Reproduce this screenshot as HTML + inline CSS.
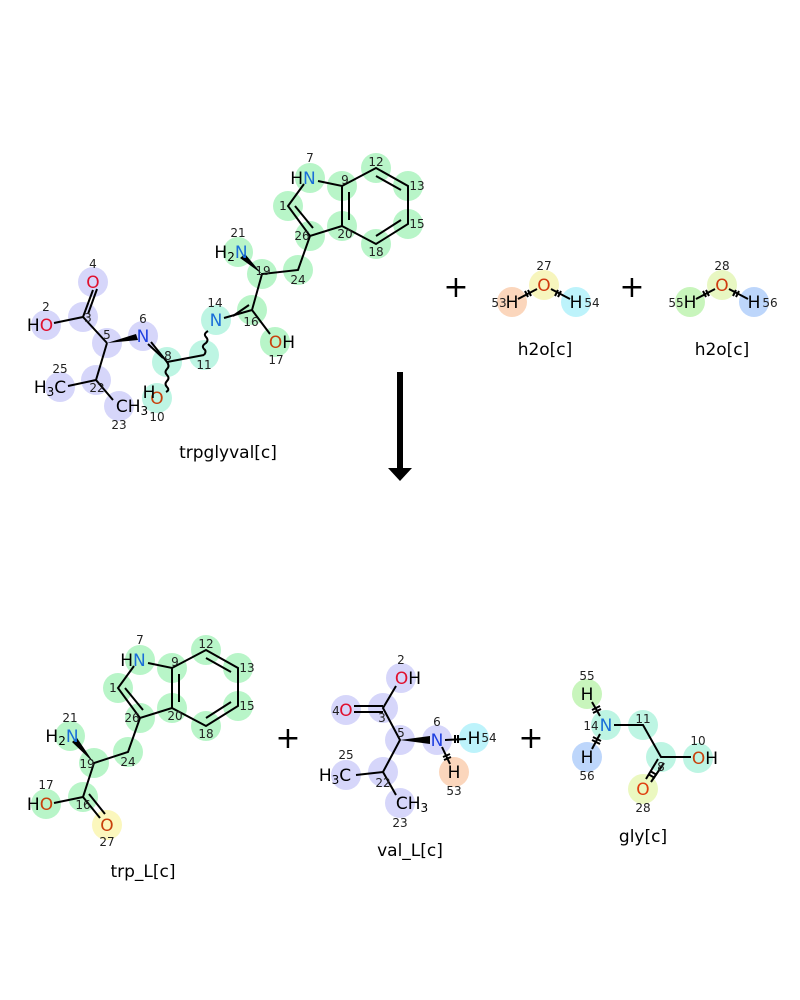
<!DOCTYPE html>
<html><head><meta charset="utf-8"><style>
html,body{margin:0;padding:0;background:#fff}
svg{display:block}
text{font-family:"DejaVu Sans","Liberation Sans",sans-serif}
.n{font-size:12px;fill:#222;text-anchor:middle}
.a{font-size:17px;text-anchor:middle}
.l{font-size:17px;text-anchor:middle;fill:#000}
.p{font-size:30px;text-anchor:middle;fill:#000}
.b{stroke:#000;stroke-width:2;fill:none}
circle{r:15px}
</style></head><body>
<svg width="800" height="1000" viewBox="0 0 800 1000" xmlns="http://www.w3.org/2000/svg">
<rect width="800" height="1000" fill="#fff"/>
<g>
<g fill="#b8f5c8">
<circle cx="310" cy="178" r="15"/><circle cx="342" cy="186" r="15"/><circle cx="376" cy="168" r="15"/>
<circle cx="408" cy="186" r="15"/><circle cx="408" cy="224" r="15"/><circle cx="376" cy="244" r="15"/>
<circle cx="342" cy="226" r="15"/><circle cx="310" cy="236" r="15"/><circle cx="288" cy="206" r="15"/>
<circle cx="298" cy="270" r="15"/><circle cx="262" cy="274" r="15"/><circle cx="238" cy="252" r="15"/>
<circle cx="252" cy="310" r="15"/><circle cx="275" cy="342" r="15"/>
</g>
<g fill="#bdf5e3">
<circle cx="216" cy="320" r="15"/><circle cx="204" cy="355" r="15"/><circle cx="167" cy="362" r="15"/><circle cx="157" cy="398" r="15"/>
</g>
<g fill="#d6d6fa">
<circle cx="143" cy="336" r="15"/><circle cx="107" cy="343" r="15"/><circle cx="83" cy="317" r="15"/>
<circle cx="93" cy="282" r="15"/><circle cx="46" cy="325" r="15"/><circle cx="96" cy="380" r="15"/>
<circle cx="60" cy="387" r="15"/><circle cx="119" cy="406" r="15"/>
</g>
<path class="b" d="M318,181 L342,186 L376,168 L408,186 L408,224 L376,244 L342,226 L342,186 M342,226 L310,236 L288,206 L304,184 M310,236 L298,270 L262,274 L252,310 L270,334 M252,310 L224,318 M204,355 L167,362 L151,342 M107,343 L83,317 L54,323 M83,317 L93,290 M107,343 L96,380 L68,386 M96,380 L113,400"/>
<path class="b" d="M349,192 L349,220 M376,176 L401,190 M401,220 L376,236 M313,228 L295,206 M233,316 L249,305 M88,314 L97,289 M148,344 L163,358"/>
<path fill="#000" d="M107,343 L136,334 L138,340 Z"/>
<path fill="#000" d="M262,274 L240,258 L245,254 Z"/>
<path class="b" stroke-width="1.5" d="M204,355 q3,-4 0,-6 q-3,-3 2,-6 q3,-3 0,-6 q-3,-3 2,-6 M167,362 q3,4 0,7 q-3,3 0,6 q3,3 0,6 q-3,3 0,6 q3,3 -1,5"/>
<text class="a" x="303" y="184" fill="#000">H<tspan fill="#1a6ed8">N</tspan></text>
<text class="a" x="231" y="258" fill="#000">H<tspan font-size="12" dy="3">2</tspan><tspan dy="-3" fill="#1a6ed8">N</tspan></text>
<text class="a" x="216" y="326" fill="#1a6ed8">N</text>
<text class="a" x="282" y="348" fill="#000"><tspan fill="#c8400c">O</tspan>H</text>
<text class="a" x="157" y="404" fill="#c8400c">O</text>
<text class="a" x="149" y="398" fill="#000">H</text>
<text class="a" x="143" y="342" fill="#2040e0">N</text>
<text class="a" x="93" y="288" fill="#e0102e">O</text>
<text class="a" x="40" y="331" fill="#000">H<tspan fill="#e0102e">O</tspan></text>
<text class="a" x="50" y="393" fill="#000">H<tspan font-size="12" dy="3">3</tspan><tspan dy="-3">C</tspan></text>
<text class="a" x="132" y="412" fill="#000">CH<tspan font-size="12" dy="3">3</tspan></text>
<text class="n" x="310" y="162">7</text><text class="n" x="345" y="184">9</text>
<text class="n" x="376" y="166">12</text><text class="n" x="417" y="190">13</text><text class="n" x="417" y="228">15</text>
<text class="n" x="376" y="256">18</text><text class="n" x="345" y="238">20</text><text class="n" x="302" y="240">26</text>
<text class="n" x="283" y="210">1</text><text class="n" x="298" y="284">24</text><text class="n" x="263" y="275">19</text>
<text class="n" x="238" y="237">21</text><text class="n" x="251" y="326">16</text><text class="n" x="276" y="364">17</text>
<text class="n" x="215" y="307">14</text><text class="n" x="204" y="369">11</text><text class="n" x="168" y="360">8</text>
<text class="n" x="157" y="421">10</text><text class="n" x="143" y="323">6</text><text class="n" x="107" y="339">5</text>
<text class="n" x="88" y="322">3</text><text class="n" x="93" y="268">4</text><text class="n" x="46" y="311">2</text>
<text class="n" x="97" y="392">22</text><text class="n" x="60" y="373">25</text><text class="n" x="119" y="429">23</text>
<text class="l" x="228" y="458">trpglyval[c]</text>
</g>
<text class="p" x="456" y="297">+</text>
<text class="p" x="632" y="297">+</text>
<circle cx="512" cy="302" r="15" fill="#fbd6bc"/><circle cx="544" cy="285" r="15" fill="#f7f5bd"/><circle cx="576" cy="302" r="15" fill="#bdf3fb"/>
<path class="b" d="M518,299 L537,289 M551,289 L570,299 M525,291 l3,6 M528,290 l3,6 M558,290 l-3,6 M561,291 l-3,6" stroke-width="1.5"/>
<text class="a" x="512" y="308" fill="#000">H</text><text class="a" x="544" y="291" fill="#d03a10">O</text><text class="a" x="576" y="308" fill="#000">H</text>
<text class="n" x="499" y="307">53</text><text class="n" x="544" y="270">27</text><text class="n" x="592" y="307">54</text>
<text class="l" x="545" y="355">h2o[c]</text>
<circle cx="690" cy="302" r="15" fill="#c8f5bc"/><circle cx="722" cy="285" r="15" fill="#e8f7c2"/><circle cx="754" cy="302" r="15" fill="#bdd6fb"/>
<path class="b" d="M696,299 L715,289 M729,289 L748,299 M703,291 l3,6 M706,290 l3,6 M736,290 l-3,6 M739,291 l-3,6" stroke-width="1.5"/>
<text class="a" x="690" y="308" fill="#000">H</text><text class="a" x="722" y="291" fill="#d03a10">O</text><text class="a" x="754" y="308" fill="#000">H</text>
<text class="n" x="676" y="307">55</text><text class="n" x="722" y="270">28</text><text class="n" x="770" y="307">56</text>
<text class="l" x="722" y="355">h2o[c]</text>
<rect x="397" y="372" width="6" height="97" fill="#000"/>
<path d="M388,468 L412,468 L400,481 Z" fill="#000"/>
<g transform="translate(-170,482)">
<g fill="#b8f5c8">
<circle cx="310" cy="178" r="15"/><circle cx="342" cy="186" r="15"/><circle cx="376" cy="168" r="15"/>
<circle cx="408" cy="186" r="15"/><circle cx="408" cy="224" r="15"/><circle cx="376" cy="244" r="15"/>
<circle cx="342" cy="226" r="15"/><circle cx="310" cy="236" r="15"/><circle cx="288" cy="206" r="15"/>
<circle cx="298" cy="270" r="15"/><circle cx="264" cy="281" r="15"/><circle cx="240" cy="254" r="15"/>
<circle cx="253" cy="315" r="15"/><circle cx="216" cy="322" r="15"/>
</g>
<circle cx="277" cy="343" r="15" fill="#fbf7bd"/>
<path class="b" d="M318,181 L342,186 L376,168 L408,186 L408,224 L376,244 L342,226 L342,186 M342,226 L310,236 L288,206 L304,184 M310,236 L298,270 L264,281 L253,315 L224,321 M349,192 L349,220 M376,176 L401,190 M401,220 L376,236 M313,228 L295,206 M253,315 L270,336 M259,312 L275,332"/>
<path fill="#000" d="M264,281 L242,260 L247,256 Z"/>
<text class="a" x="303" y="184" fill="#000">H<tspan fill="#1a6ed8">N</tspan></text>
<text class="a" x="232" y="260" fill="#000">H<tspan font-size="12" dy="3">2</tspan><tspan dy="-3" fill="#1a6ed8">N</tspan></text>
<text class="a" x="210" y="328" fill="#000">H<tspan fill="#c8400c">O</tspan></text>
<text class="a" x="277" y="349" fill="#c8400c">O</text>
<text class="n" x="310" y="162">7</text><text class="n" x="345" y="184">9</text>
<text class="n" x="376" y="166">12</text><text class="n" x="417" y="190">13</text><text class="n" x="417" y="228">15</text>
<text class="n" x="376" y="256">18</text><text class="n" x="345" y="238">20</text><text class="n" x="302" y="240">26</text>
<text class="n" x="283" y="210">1</text><text class="n" x="298" y="284">24</text><text class="n" x="257" y="286">19</text>
<text class="n" x="240" y="240">21</text><text class="n" x="253" y="327">16</text><text class="n" x="216" y="307">17</text>
<text class="n" x="277" y="364">27</text>
</g>
<text class="l" x="143" y="877">trp_L[c]</text>
<text class="p" x="288" y="748">+</text>
<text class="p" x="531" y="748">+</text>
<g fill="#d6d6fa">
<circle cx="401" cy="678" r="15"/><circle cx="383" cy="708" r="15"/><circle cx="346" cy="710" r="15"/>
<circle cx="400" cy="740" r="15"/><circle cx="437" cy="740" r="15"/><circle cx="383" cy="772" r="15"/>
<circle cx="346" cy="775" r="15"/><circle cx="400" cy="803" r="15"/>
</g>
<circle cx="474" cy="738" r="15" fill="#bdf3fb"/><circle cx="454" cy="772" r="15" fill="#fbd6bc"/>
<path class="b" d="M396,686 L383,708 L400,740 L383,772 L356,775 M383,772 L396,795 M383,706 L354,706 M383,712 L354,712 M445,740 L466,739 M442,747 L450,764 M455,735 l0,8 M458,735 l0,8 M443,757 l7,-3 M444,760 l7,-3"/>
<path fill="#000" d="M400,740 L430,736 L430,744 Z"/>
<text class="a" x="408" y="684" fill="#000"><tspan fill="#e0102e">O</tspan>H</text>
<text class="a" x="346" y="716" fill="#e0102e">O</text>
<text class="a" x="437" y="746" fill="#2040e0">N</text>
<text class="a" x="474" y="744" fill="#000">H</text>
<text class="a" x="454" y="778" fill="#000">H</text>
<text class="a" x="335" y="781" fill="#000">H<tspan font-size="12" dy="3">3</tspan><tspan dy="-3">C</tspan></text>
<text class="a" x="412" y="809" fill="#000">CH<tspan font-size="12" dy="3">3</tspan></text>
<text class="n" x="401" y="664">2</text><text class="n" x="382" y="722">3</text><text class="n" x="336" y="715">4</text>
<text class="n" x="401" y="737">5</text><text class="n" x="437" y="726">6</text><text class="n" x="489" y="742">54</text>
<text class="n" x="454" y="795">53</text><text class="n" x="383" y="787">22</text><text class="n" x="346" y="759">25</text>
<text class="n" x="400" y="827">23</text>
<text class="l" x="410" y="856">val_L[c]</text>
<circle cx="587" cy="694" r="15" fill="#c8f5bc"/><circle cx="587" cy="757" r="15" fill="#bdd6fb"/>
<g fill="#bdf5e3"><circle cx="606" cy="725" r="15"/><circle cx="643" cy="725" r="15"/><circle cx="661" cy="757" r="15"/><circle cx="698" cy="758" r="15"/></g>
<circle cx="643" cy="789" r="15" fill="#ebf8c0"/>
<path class="b" d="M614,725 L643,725 L661,757 L691,757 M592,702 L600,716 M592,749 L600,734 M658,759 L646,779 M664,763 L651,782"/>
<path class="b" stroke-width="1.5" d="M592,710 l8,-4 M593,713 l8,-4 M592,740 l8,4 M593,737 l8,4 M650,771 l7,4 M648,774 l7,4"/>
<text class="a" x="587" y="700" fill="#000">H</text><text class="a" x="587" y="763" fill="#000">H</text>
<text class="a" x="606" y="731" fill="#1a6ed8">N</text>
<text class="a" x="705" y="764" fill="#000"><tspan fill="#c8400c">O</tspan>H</text>
<text class="a" x="643" y="795" fill="#e04010">O</text>
<text class="n" x="587" y="680">55</text><text class="n" x="587" y="780">56</text><text class="n" x="591" y="730">14</text>
<text class="n" x="643" y="723">11</text><text class="n" x="661" y="771">8</text><text class="n" x="698" y="745">10</text>
<text class="n" x="643" y="812">28</text>
<text class="l" x="643" y="842">gly[c]</text>
</svg>
</body></html>
